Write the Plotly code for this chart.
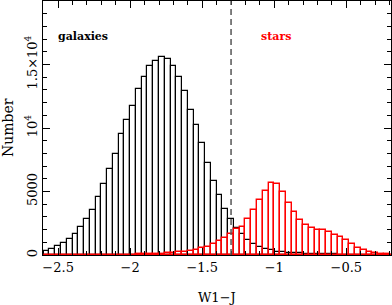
import plotly.graph_objects as go

# Histogram bins (lower edge of first bin and bin width, in W1-J)
bin_start = -2.60
bin_width = 0.04

galaxies = [280, 470, 700, 910, 1250, 1680, 2180, 2835, 3570, 4540,
            5600, 6745, 7980, 9500, 10600, 11760, 13100, 14040, 14880, 15300,
            15570, 15460, 14880, 13990, 12910, 11420, 10200, 8780, 7220, 5850,
            4720, 3600, 2810, 2110, 1620, 1180, 870, 600, 500, 390,
            260, 220, 180, 150, 125, 105, 90, 75, 60, 50,
            42, 35, 28, 22, 18, 14, 11, 9, 7, 5, 4]

stars = [2, 3, 3, 4, 5, 6, 7, 8, 9, 10,
         12, 14, 16, 18, 22, 30, 40, 55, 70, 85,
         100, 130, 160, 200, 260, 320, 394, 525, 656, 830,
         1110, 1350, 1670, 2060, 2230, 2820, 3570, 4330, 5050, 5640,
         5565, 4988, 4130, 3413, 2756, 2330, 2100, 1930, 1930, 1820,
         1600, 1444, 1181, 866, 578, 394, 263, 131, 79, 52, 30]

centers = [round(bin_start + bin_width * (i + 0.5), 3) for i in range(len(galaxies))]

x_tickvals = [-2.5, -2, -1.5, -1, -0.5]
x_ticktext = ["\u22122.5", "\u22122", "\u22121.5", "\u22121", "\u22120.5"]
y_tickvals = [0, 5000, 10000, 15000]
y_ticktext = ["0", "5000", "10<sup>4</sup>", "1.5\u00d710<sup>4</sup>"]
cut_value = -1.3

FONT = "DejaVu Serif"

fig = go.Figure()
fig.add_trace(go.Bar(x=centers, y=galaxies, width=bin_width,
                     marker=dict(color="rgba(0,0,0,0)", line=dict(color="black", width=1.2)),
                     name="galaxies", showlegend=False))
fig.add_trace(go.Bar(x=centers, y=stars, width=bin_width,
                     marker=dict(color="rgba(0,0,0,0)", line=dict(color="#ff0000", width=1.4)),
                     name="stars", showlegend=False))

fig.add_shape(type="line", x0=cut_value, x1=cut_value, xref="x", y0=0, y1=1, yref="paper",
              line=dict(color="#555555", width=1.5, dash="6px,4px"))

fig.add_annotation(x=-2.326, y=17240, text="<b>galaxies</b>", showarrow=False,
                   font=dict(family=FONT, size=11, color="black"))
fig.add_annotation(x=-0.986, y=17240, text="<b>stars</b>", showarrow=False,
                   font=dict(family=FONT, size=11, color="#ff0000"))

# axis titles as paper annotations for exact placement
fig.add_annotation(x=0.5, y=0, xref="paper", yref="paper", yshift=-42, yanchor="middle",
                   text="W1\u2212J", showarrow=False, font=dict(family=FONT, size=13))
fig.add_annotation(x=0, y=0.5, xref="paper", yref="paper", xshift=-35, xanchor="center",
                   text="Number", textangle=-90, showarrow=False, font=dict(family=FONT, size=14))

fig.update_layout(
    width=392, height=305,
    margin=dict(l=43, r=1, t=1, b=50, autoexpand=False),
    paper_bgcolor="white", plot_bgcolor="white",
    barmode="overlay", bargap=0,
    font=dict(family=FONT, size=13, color="black"),
    xaxis=dict(range=[-2.605, -0.19], showline=True, mirror="allticks", linecolor="black",
               linewidth=1, ticks="inside", ticklen=7, tickcolor="black", automargin=False,
               tickvals=x_tickvals, ticktext=x_ticktext, showgrid=False, zeroline=False,
               minor=dict(ticks="inside", ticklen=4, tickcolor="black", tick0=-2.6, dtick=0.1,
                          showgrid=False),
               tickfont=dict(family=FONT, size=13)),
    yaxis=dict(range=[0, 20000], showline=True, mirror="allticks", linecolor="black",
               linewidth=1, ticks="inside", ticklen=7, tickcolor="black", automargin=False,
               tickvals=y_tickvals, ticktext=y_ticktext, tickangle=-90,
               showgrid=False, zeroline=False,
               minor=dict(ticks="inside", ticklen=4, tickcolor="black", tick0=0, dtick=1000,
                          showgrid=False),
               tickfont=dict(family=FONT, size=13)),
)

fig.write_html("out.html", config={"displayModeBar": False},
               post_script="document.body.style.margin='0';document.body.style.overflow='hidden';")
